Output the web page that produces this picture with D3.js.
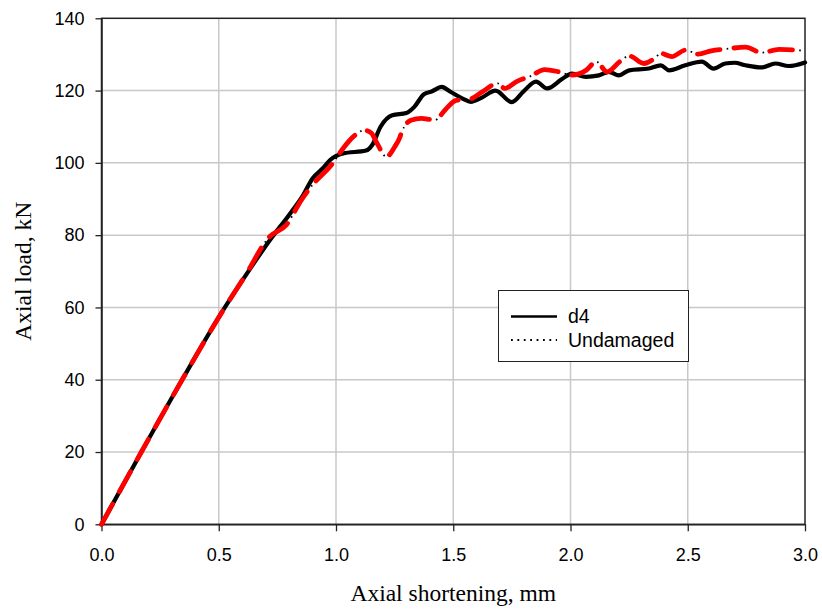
<!DOCTYPE html>
<html>
<head>
<meta charset="utf-8">
<script src="https://cdn.jsdelivr.net/npm/d3@7"></script>
<style>
  html, body { margin: 0; padding: 0; background: #fff; }
  svg { display: block; }
</style>
</head>
<body>
<svg id="chart" width="822" height="611"></svg>
<script>
// Axial shortening (mm) and axial load (kN) for the damaged specimen d4
const d4Shortening = [0, 0.17, 0.344, 0.526, 0.64, 0.72, 0.80, 0.86, 0.90, 0.944, 0.975, 1.03,
  1.128, 1.155, 1.19, 1.24, 1.30, 1.334, 1.375, 1.41, 1.45, 1.49, 1.54, 1.575, 1.62, 1.68, 1.75,
  1.80, 1.853, 1.90, 1.964, 2.006, 2.066, 2.121, 2.164, 2.206, 2.25, 2.334, 2.385, 2.42, 2.49,
  2.56, 2.61, 2.66, 2.70, 2.747, 2.815, 2.874, 2.93, 3.0];
const d4Load = [0, 20, 40, 60, 71.3, 78.8, 85.6, 91.1, 95.7, 98.5, 100.8, 102.6,
  103.4, 105, 110, 113.2, 113.8, 115.5, 119, 119.8, 121, 119.6, 117.8, 116.9, 118, 120, 116.8,
  119.8, 122.5, 120.6, 123.2, 124.7, 123.8, 124.2, 125.2, 124.2, 125.6, 126.1, 127, 125.6, 127,
  128, 126.1, 127.5, 127.7, 127, 126.4, 127.5, 126.8, 127.8];

// Axial shortening (mm) and axial load (kN) for the undamaged specimen
const undamagedShortening = [0, 0.17, 0.344, 0.526, 0.61, 0.717, 0.788, 0.852, 0.90, 0.986, 1.03,
  1.073, 1.12, 1.15, 1.172, 1.215, 1.25, 1.27, 1.28, 1.32, 1.364, 1.40, 1.42, 1.47, 1.512, 1.57,
  1.62, 1.69, 1.72, 1.77, 1.83, 1.89, 1.95, 2.006, 2.066, 2.11, 2.156, 2.21, 2.25, 2.313, 2.36,
  2.385, 2.432, 2.49, 2.545, 2.60, 2.66, 2.747, 2.815, 2.89, 3.0];
const undamagedLoad = [0, 20, 40, 60, 68.5, 79.6, 82.8, 89.7, 93.9, 99.9, 104,
  107.2, 109, 108.3, 105.8, 101.7, 104.4, 106.7, 108.5, 111.8, 112.3, 112, 111.8, 115, 117.3, 117.6,
  119.5, 122, 120.6, 122.5, 124, 125.8, 125.2, 124.3, 125.6, 128, 125.2, 128, 129.6, 127.5, 129,
  130.3, 129.4, 131.2, 130.1, 131, 131.5, 132, 130.5, 131.4, 131];

const xTicks = [0, 0.5, 1.0, 1.5, 2.0, 2.5, 3.0];
const yTicks = [0, 20, 40, 60, 80, 100, 120, 140];
const seriesNames = ["d4", "Undamaged"];

const svg = d3.select("#chart");
const plotLeft = 101.5, plotRight = 805, plotTop = 18.3, plotBottom = 524.3;
const sansFont = "Arial, 'Liberation Sans', sans-serif";
const serifFont = "'Times New Roman', 'Liberation Serif', serif";

const x = d3.scaleLinear().domain([0, 3]).range([plotLeft, plotRight]);
const y = d3.scaleLinear().domain([0, 140]).range([plotBottom, plotTop]);

// grid
const grid = svg.append("g").attr("stroke", "#c8c8c8").attr("stroke-width", 1.5);
grid.selectAll("line.gx").data(xTicks.slice(1, -1)).join("line")
  .attr("x1", d => x(d)).attr("x2", d => x(d)).attr("y1", plotTop).attr("y2", plotBottom);
grid.selectAll("line.gy").data(yTicks.slice(1, -1)).join("line")
  .attr("x1", plotLeft).attr("x2", plotRight).attr("y1", d => y(d)).attr("y2", d => y(d));

// frame
svg.append("rect")
  .attr("x", plotLeft).attr("y", plotTop)
  .attr("width", plotRight - plotLeft).attr("height", plotBottom - plotTop)
  .attr("fill", "none").attr("stroke", "#222").attr("stroke-width", 1.5);

// axes
const xAxis = d3.axisBottom(x).tickValues(xTicks).tickFormat(d3.format(".1f"))
  .tickSizeInner(7).tickSizeOuter(0).tickPadding(17);
const yAxis = d3.axisLeft(y).tickValues(yTicks).tickFormat(d3.format("d"))
  .tickSizeInner(6).tickSizeOuter(0).tickPadding(11);

const gx = svg.append("g").attr("transform", `translate(0,${plotBottom})`).call(xAxis);
const gy = svg.append("g").attr("transform", `translate(${plotLeft},0)`).call(yAxis);
[gx, gy].forEach(g => {
  g.select(".domain").attr("stroke", "#222").attr("stroke-width", 1.5);
  g.selectAll(".tick line").attr("stroke", "#222").attr("stroke-width", 1.3);
  g.selectAll(".tick text").attr("fill", "#000")
    .style("font-family", sansFont).style("font-size", "18px");
});

// axis titles
svg.append("text")
  .attr("x", (plotLeft + plotRight) / 2).attr("y", 601)
  .attr("text-anchor", "middle")
  .style("font-family", serifFont).style("font-size", "23.5px")
  .attr("fill", "#000")
  .text("Axial shortening, mm");
svg.append("text")
  .attr("transform", `translate(31,${(plotTop + plotBottom) / 2}) rotate(-90)`)
  .attr("text-anchor", "middle")
  .style("font-family", serifFont).style("font-size", "23.5px")
  .attr("fill", "#000")
  .text("Axial load, kN");

// curves
const line = d3.line().x(d => x(d[0])).y(d => y(d[1])).curve(d3.curveMonotoneX);
const d4Data = d4Shortening.map((s, i) => [s, d4Load[i]]);
const undamagedData = undamagedShortening.map((s, i) => [s, undamagedLoad[i]]);

svg.append("path").datum(d4Data)
  .attr("d", line).attr("fill", "none")
  .attr("stroke", "#000").attr("stroke-width", 4.2)
  .attr("stroke-linejoin", "round").attr("stroke-linecap", "round");

// undamaged: red dashes with a small black dot in each gap
svg.append("path").datum(undamagedData)
  .attr("d", line).attr("fill", "none")
  .attr("stroke", "#ff0000").attr("stroke-width", 4.8)
  .attr("stroke-dasharray", "23 14")
  .attr("stroke-linecap", "round").attr("stroke-linejoin", "round");
svg.append("path").datum(undamagedData)
  .attr("d", line).attr("fill", "none")
  .attr("stroke", "#000").attr("stroke-width", 1.8)
  .attr("stroke-dasharray", "1.6 35.4")
  .attr("stroke-dashoffset", -29.7);

// legend
const lg = svg.append("g");
lg.append("rect")
  .attr("x", 498.5).attr("y", 290.5).attr("width", 190).attr("height", 71)
  .attr("fill", "#fff").attr("stroke", "#222").attr("stroke-width", 1);
const legendRows = [
  { name: seriesNames[0], y: 316.5, dash: null, width: 2.6 },
  { name: seriesNames[1], y: 340, dash: "1.8 4.6", width: 1.8 }
];
legendRows.forEach(r => {
  const l = lg.append("line")
    .attr("x1", 511).attr("x2", 557).attr("y1", r.y).attr("y2", r.y)
    .attr("stroke", "#000").attr("stroke-width", r.width);
  if (r.dash) l.attr("stroke-dasharray", r.dash);
  lg.append("text")
    .attr("x", 568).attr("y", r.y).attr("dy", "0.35em")
    .style("font-family", sansFont).style("font-size", "19.5px")
    .attr("fill", "#000")
    .text(r.name);
});
</script>
</body>
</html>
